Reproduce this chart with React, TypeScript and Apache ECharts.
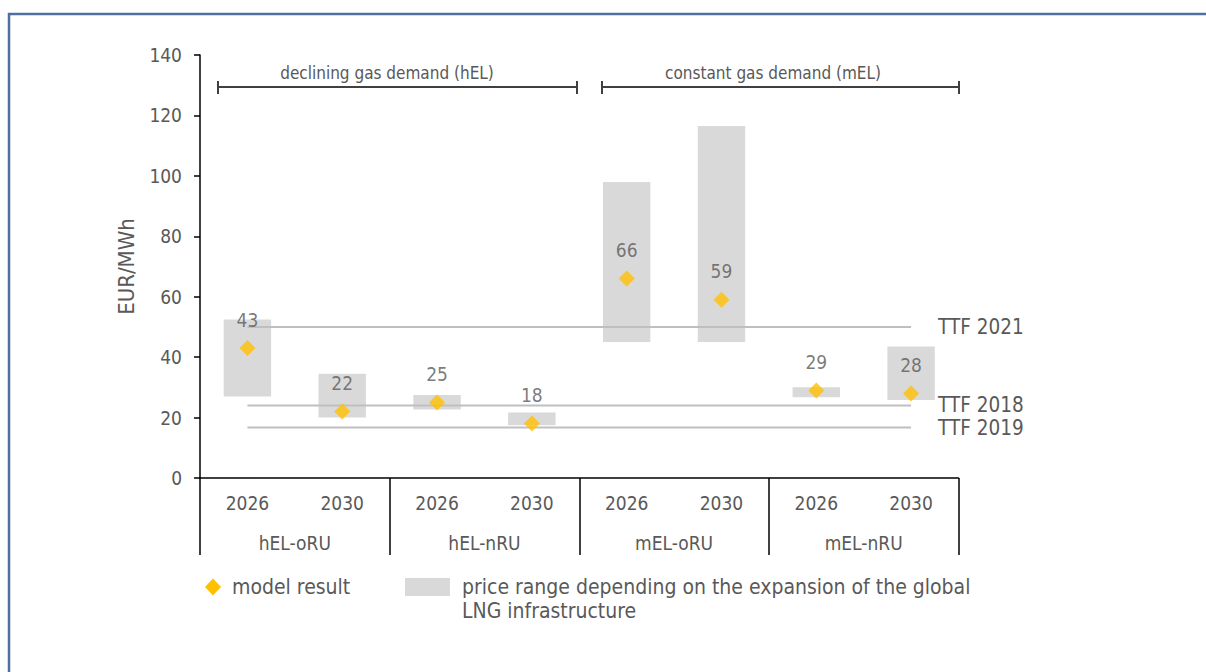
import React, { useEffect, useRef } from "react";
import * as echarts from "echarts";

// Scenario / year layout of the horizontal axis
const years = ["2026", "2030", "2026", "2030", "2026", "2030", "2026", "2030"];
const scenarios = ["hEL-oRU", "hEL-nRU", "mEL-oRU", "mEL-nRU"];

// Model result (EUR/MWh)
const modelResult = [43, 22, 25, 18, 66, 59, 29, 28];

// Price range depending on the global LNG infrastructure expansion
const rangeLow = [27, 20, 22.7, 17.5, 45, 45, 26.7, 25.8];
const rangeHigh = [52.5, 34.5, 27.5, 21.7, 98, 116.5, 30, 43.5];

// TTF reference prices
const ttfNames = ["TTF 2021", "TTF 2018", "TTF 2019"];
const ttfValues = [50, 24, 16.7];

// Value axis
const yMin = 0;
const yMax = 140;
const yStep = 20;

const TEXT = "#595959";
const FONT = '"DejaVu Sans Condensed", "DejaVu Sans", sans-serif';

export default function App() {
  const ref = useRef<HTMLDivElement>(null);

  useEffect(() => {
    document.body.style.margin = "0";
    if (!ref.current) return;
    const chart = echarts.init(ref.current, undefined, { renderer: "svg" });

    const rangeSpan = rangeHigh.map((h, i) => +(h - rangeLow[i]).toFixed(2));
    const idx = years.map((_, i) => i);

    const ttfSeries = ttfValues.map((v, k) => ({
      type: "line",
      name: ttfNames[k],
      xAxisIndex: 0,
      data: [
        [idx[0], v],
        [idx[idx.length - 1], v],
      ],
      symbol: "none",
      z: 3,
      lineStyle: { color: "#BFBFBF", width: 2 },
      endLabel: {
        show: true,
        formatter: ttfNames[k],
        distance: 27,
        fontSize: 20.5,
        fontFamily: FONT,
        color: TEXT,
      },
      silent: true,
    }));

    const bracketText = (x: number, txt: string) => ({
      type: "text",
      x,
      y: 73,
      style: {
        text: txt,
        fill: TEXT,
        font: `17px ${FONT}`,
        textAlign: "center",
        textVerticalAlign: "middle",
      },
    });
    const bracket = (x1: number, x2: number) => [
      { type: "line", shape: { x1, y1: 87, x2, y2: 87 }, style: { stroke: "#404040", lineWidth: 2 } },
      { type: "line", shape: { x1, y1: 81, x2: x1, y2: 94 }, style: { stroke: "#404040", lineWidth: 2 } },
      { type: "line", shape: { x1: x2, y1: 81, x2, y2: 94 }, style: { stroke: "#404040", lineWidth: 2 } },
    ];

    chart.setOption({
      animation: false,
      textStyle: { fontFamily: FONT },
      grid: { left: 200, right: 247.5, top: 55, bottom: 194, containLabel: false },
      xAxis: [
        {
          type: "category",
          data: years,
          position: "bottom",
          axisLine: { show: true, onZero: false, lineStyle: { color: "#000", width: 1.5 } },
          axisTick: { show: false },
          axisLabel: { fontSize: 19, color: TEXT, margin: 15, interval: 0, fontFamily: FONT },
        },
        {
          type: "category",
          data: scenarios,
          position: "bottom",
          axisLine: { show: false },
          axisTick: { show: true, length: 77, interval: 0, lineStyle: { color: "#000", width: 1.5 } },
          axisLabel: { fontSize: 19, color: TEXT, margin: 55, interval: 0, fontFamily: FONT },
        },
      ],
      yAxis: {
        type: "value",
        min: yMin,
        max: yMax,
        interval: yStep,
        name: "EUR/MWh",
        nameLocation: "middle",
        nameRotate: 90,
        nameGap: 63,
        nameTextStyle: { fontSize: 22, color: TEXT, fontFamily: FONT },
        axisLine: { show: true, lineStyle: { color: "#000", width: 1.5 } },
        axisTick: { show: true, length: 6, lineStyle: { color: "#000", width: 1.5 } },
        axisLabel: { fontSize: 19, color: TEXT, margin: 18, fontFamily: FONT },
        splitLine: { show: false },
      },
      series: [
        {
          type: "bar",
          name: "base",
          stack: "range",
          xAxisIndex: 0,
          data: rangeLow,
          barWidth: "50%",
          itemStyle: { color: "rgba(0,0,0,0)" },
          silent: true,
          z: 2,
        },
        {
          type: "bar",
          name: "price range depending on the expansion of the global LNG infrastructure",
          stack: "range",
          xAxisIndex: 0,
          data: rangeSpan,
          barWidth: "50%",
          itemStyle: { color: "#D9D9D9" },
          z: 2,
        },
        ...ttfSeries,
        {
          type: "scatter",
          name: "model result",
          xAxisIndex: 0,
          data: modelResult.map((v, i) => [idx[i], v]),
          symbol: "diamond",
          symbolSize: [16, 16],
          itemStyle: { color: "#FFC000" },
          z: 5,
          label: {
            show: true,
            position: "top",
            distance: 11,
            fontSize: 19,
            color: TEXT,
            fontFamily: FONT,
            formatter: (p: any) => String(p.value[1]),
          },
        },
      ],
      graphic: [
        // outer frame
        {
          type: "rect",
          shape: { x: 9, y: 14, width: 1400, height: 900 },
          style: { fill: "none", stroke: "#4E6F9F", lineWidth: 2.5 },
          silent: true,
        },
        // demand scenario brackets
        ...bracket(218, 577),
        bracketText(387, "declining gas demand (hEL)"),
        ...bracket(602, 959),
        bracketText(773, "constant gas demand (mEL)"),
        // legend
        {
          type: "polygon",
          shape: { points: [[213, 578.5], [221, 587], [213, 595.5], [205, 587]] },
          style: { fill: "#FFC000" },
        },
        {
          type: "text",
          x: 232,
          y: 587,
          style: { text: "model result", fill: TEXT, font: `21px ${FONT}`, textVerticalAlign: "middle" },
        },
        {
          type: "rect",
          shape: { x: 405, y: 578, width: 45, height: 18 },
          style: { fill: "#D9D9D9" },
        },
        {
          type: "text",
          x: 462,
          y: 587,
          style: {
            text: "price range depending on the expansion of the global",
            fill: TEXT,
            font: `21px ${FONT}`,
            textVerticalAlign: "middle",
          },
        },
        {
          type: "text",
          x: 462,
          y: 611,
          style: { text: "LNG infrastructure", fill: TEXT, font: `21px ${FONT}`, textVerticalAlign: "middle" },
        },
      ],
    });

    return () => chart.dispose();
  }, []);

  return <div ref={ref} style={{ width: 1206, height: 672 }} />;
}
